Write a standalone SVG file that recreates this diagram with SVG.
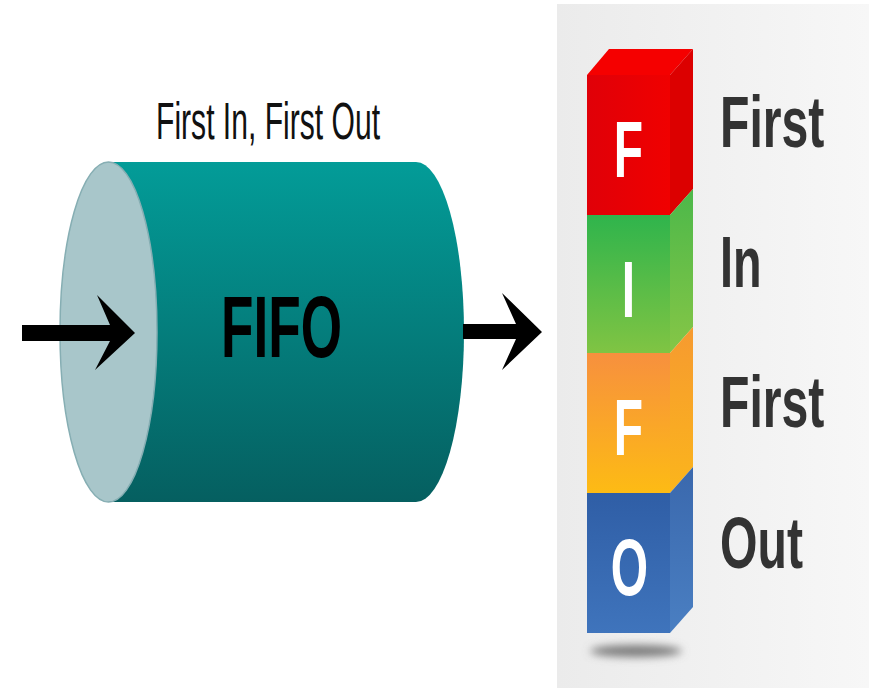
<svg xmlns="http://www.w3.org/2000/svg" width="869" height="688" viewBox="0 0 869 688">
  <defs>
    <linearGradient id="bodyGrad" x1="0" y1="0" x2="0" y2="1">
      <stop offset="0" stop-color="#039c98"/>
      <stop offset="1" stop-color="#055f60"/>
    </linearGradient>
    <linearGradient id="panelGrad" x1="0" y1="0" x2="1" y2="0">
      <stop offset="0" stop-color="#ebebeb"/>
      <stop offset="1" stop-color="#f7f7f7"/>
    </linearGradient>
    <linearGradient id="redFront" x1="0" y1="0" x2="1" y2="0">
      <stop offset="0" stop-color="#e00008"/>
      <stop offset="1" stop-color="#f00000"/>
    </linearGradient>
    <linearGradient id="greenFront" x1="0" y1="0" x2="0" y2="1">
      <stop offset="0" stop-color="#2fb44c"/>
      <stop offset="1" stop-color="#80c443"/>
    </linearGradient>
    <linearGradient id="greenSide" x1="0" y1="0" x2="0" y2="1">
      <stop offset="0" stop-color="#4cb84a"/>
      <stop offset="1" stop-color="#86c646"/>
    </linearGradient>
    <linearGradient id="orangeFront" x1="0" y1="0" x2="0" y2="1">
      <stop offset="0" stop-color="#f7903e"/>
      <stop offset="1" stop-color="#fdbb14"/>
    </linearGradient>
    <linearGradient id="orangeSide" x1="0" y1="0" x2="0" y2="1">
      <stop offset="0" stop-color="#f69a30"/>
      <stop offset="1" stop-color="#fbb51c"/>
    </linearGradient>
    <linearGradient id="blueFront" x1="0" y1="0" x2="0" y2="1">
      <stop offset="0" stop-color="#2f5ea6"/>
      <stop offset="1" stop-color="#3f74bc"/>
    </linearGradient>
    <linearGradient id="blueSide" x1="0" y1="0" x2="0" y2="1">
      <stop offset="0" stop-color="#3a68ad"/>
      <stop offset="1" stop-color="#4a7fc2"/>
    </linearGradient>
    <filter id="soft" x="-50%" y="-200%" width="200%" height="500%">
      <feGaussianBlur stdDeviation="4"/>
    </filter>
  </defs>
  <style>
    .cap { font-family: "Liberation Sans", Arial, sans-serif; font-weight: bold; fill: #ffffff; font-size: 80px; }
    .word { font-family: "Liberation Sans", Arial, sans-serif; font-weight: bold; fill: #333333; font-size: 73px; }
    .arrow { fill: #000000; }
  </style>

  <rect x="0" y="0" width="869" height="688" fill="#ffffff"/>
  <rect x="557" y="4" width="312" height="684" fill="url(#panelGrad)"/>

  <!-- queue cylinder -->
  <g id="cylinder">
    <path d="M108,162 H416 A48,170 0 0 1 416,502 H108 Z" fill="url(#bodyGrad)"/>
    <ellipse cx="108.5" cy="332" rx="48.5" ry="170" fill="#a8c6ca" stroke="#86aeb3" stroke-width="1.5"/>
    <text x="221" y="357" font-family="'Liberation Sans', Arial, sans-serif" font-weight="bold" font-size="88" textLength="121" lengthAdjust="spacingAndGlyphs" fill="#000000">FIFO</text>
  </g>

  <g id="title">
    <text x="156" y="139" font-family="'Liberation Sans', Arial, sans-serif" font-size="51" textLength="224" lengthAdjust="spacingAndGlyphs" fill="#111111">First In, First Out</text>
  </g>

  <!-- in / out arrows -->
  <g id="connectors">
    <path class="arrow" d="M22,325 H110 L97,295 L135,333 L95,370 L110,341 H22 Z"/>
    <path class="arrow" d="M463,324 H516 L502,293 L542,332 L502,370 L516,339 H463 Z"/>
  </g>

  <!-- stacked letter column -->
  <ellipse cx="636" cy="651" rx="46" ry="6" fill="#7a7a7a" filter="url(#soft)"/>

  <g id="block-f1">
    <polygon points="587,75 609,49 693,49 670,75" fill="#f50000"/>
    <rect x="587" y="75" width="83" height="140" fill="url(#redFront)"/>
    <polygon points="670,75 693,49 693,189 670,215" fill="#dc0000"/>
    <text class="cap" text-anchor="middle" transform="translate(628.5,177) scale(0.6,1)">F</text>
  </g>
  <g id="block-i">
    <rect x="587" y="215" width="83" height="138" fill="url(#greenFront)"/>
    <polygon points="670,215 693,189 693,327 670,353" fill="url(#greenSide)"/>
    <text class="cap" text-anchor="middle" transform="translate(628.5,317) scale(0.6,1)">I</text>
  </g>
  <g id="block-f2">
    <rect x="587" y="353" width="83" height="140" fill="url(#orangeFront)"/>
    <polygon points="670,353 693,327 693,467 670,493" fill="url(#orangeSide)"/>
    <text class="cap" text-anchor="middle" transform="translate(628.5,455) scale(0.6,1)">F</text>
  </g>
  <g id="block-o">
    <rect x="587" y="493" width="83" height="140" fill="url(#blueFront)"/>
    <polygon points="670,493 693,467 693,607 670,633" fill="url(#blueSide)"/>
    <text class="cap" text-anchor="middle" transform="translate(629.5,595) scale(0.6,1)">O</text>
  </g>

  <g id="words">
    <text class="word" transform="translate(720,147) scale(0.66,1)">First</text>
    <text class="word" transform="translate(720,287) scale(0.64,1)">In</text>
    <text class="word" transform="translate(720,427) scale(0.66,1)">First</text>
    <text class="word" transform="translate(720,568) scale(0.66,1)">Out</text>
  </g>
</svg>
